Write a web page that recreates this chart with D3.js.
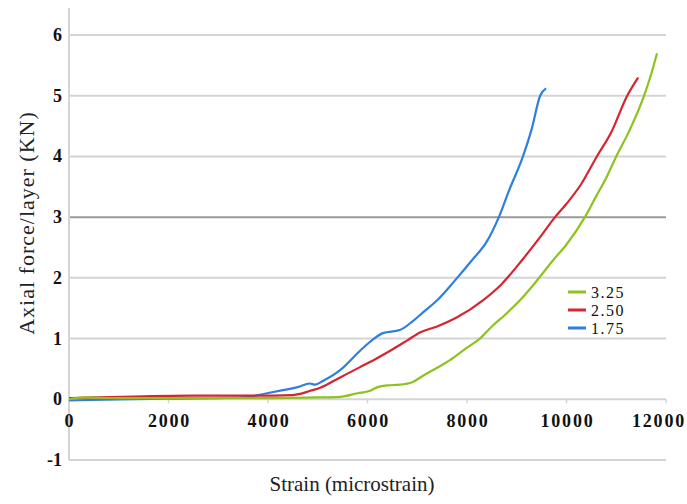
<!DOCTYPE html>
<html>
<head>
<meta charset="utf-8">
<script src="https://cdn.jsdelivr.net/npm/d3@7"></script>
<style>
  body { margin: 0; background: #fff; }
  .tick-label { font-family: "Liberation Serif", "Times New Roman", serif; font-weight: bold; font-size: 18px; letter-spacing: 1.8px; fill: #111; }
  .axis-title { font-family: "Liberation Serif", "Times New Roman", serif; font-size: 21px; fill: #222; }
  .legend-text { font-family: "Liberation Serif", "Times New Roman", serif; font-size: 16px; letter-spacing: 1.5px; fill: #111; }
</style>
</head>
<body>
<div id="chart"></div>
<script>
// strain (microstrain) vs axial force per layer (kN), one array pair per series
const green_x = [0, 300, 1000, 2000, 3000, 4000, 5000, 5450, 5800, 6050, 6200, 6400, 6650, 6900, 7100, 7400, 7650, 8000, 8260, 8500, 8750, 9065, 9350, 9730, 10000, 10370, 10600, 10800, 11000, 11250, 11560, 11700, 11820];
const green_y = [0.0, 0.03, 0.02, 0.02, 0.02, 0.02, 0.03, 0.04, 0.1, 0.14, 0.2, 0.23, 0.24, 0.28, 0.38, 0.52, 0.64, 0.85, 1.0, 1.2, 1.38, 1.63, 1.9, 2.29, 2.55, 3.0, 3.35, 3.65, 4.0, 4.4, 5.0, 5.35, 5.7];

const red_x = [0, 500, 1500, 2500, 3500, 4500, 4650, 4850, 5050, 5450, 5850, 6110, 6500, 6800, 7055, 7400, 7800, 8320, 8700, 9105, 9450, 9770, 10000, 10300, 10610, 10900, 11220, 11440];
const red_y = [0.02, 0.03, 0.05, 0.06, 0.06, 0.07, 0.09, 0.14, 0.19, 0.36, 0.53, 0.64, 0.82, 0.97, 1.1, 1.2, 1.35, 1.63, 1.9, 2.29, 2.65, 3.0, 3.22, 3.55, 4.0, 4.4, 5.0, 5.3];

const blue_x = [0, 1000, 2000, 3000, 3500, 3980, 4300, 4600, 4840, 4950, 5100, 5450, 5850, 6100, 6310, 6650, 6900, 7100, 7400, 7750, 8100, 8400, 8640, 8850, 9125, 9300, 9470, 9590];
const blue_y = [-0.02, 0.0, 0.01, 0.02, 0.03, 0.1, 0.15, 0.2, 0.26, 0.24, 0.3, 0.48, 0.8, 0.98, 1.09, 1.14, 1.28, 1.42, 1.63, 1.95, 2.29, 2.6, 3.0, 3.45, 4.0, 4.45, 5.0, 5.12];

const series_names = ["3.25", "2.50", "1.75"];
const series_colors = ["#8dc21f", "#d42530", "#2d7fe0"];
const x_ticks = [0, 2000, 4000, 6000, 8000, 10000, 12000];
const y_ticks = [-1, 0, 1, 2, 3, 4, 5, 6];

const W = 687, H = 504;
const svg = d3.select("#chart").append("svg")
    .attr("width", W)
    .attr("height", H);

const x = d3.scaleLinear().domain([0, 12000]).range([69, 666]);
const y = d3.scaleLinear().domain([-1, 6]).range([460, 35]);

// horizontal gridlines
svg.append("g")
    .selectAll("line")
    .data(y_ticks)
    .enter()
    .append("line")
    .attr("x1", x(0))
    .attr("x2", x(12000))
    .attr("y1", function(d) { return y(d); })
    .attr("y2", function(d) { return y(d); })
    .attr("stroke", function(d) { return d === 3 ? "#9a9a9a" : "#d4d4d4"; })
    .attr("stroke-width", 2);

// left axis line
svg.append("line")
    .attr("x1", x(0)).attr("x2", x(0))
    .attr("y1", 8).attr("y2", y(-1))
    .attr("stroke", "#d4d4d4")
    .attr("stroke-width", 2);

// small tick marks under the zero line
svg.append("g")
    .selectAll("line")
    .data(x_ticks.slice(1))
    .enter()
    .append("line")
    .attr("x1", function(d) { return x(d); })
    .attr("x2", function(d) { return x(d); })
    .attr("y1", y(0))
    .attr("y2", y(0) + 4)
    .attr("stroke", "#d4d4d4")
    .attr("stroke-width", 1.5);

// y tick labels
svg.append("g")
    .selectAll("text")
    .data(y_ticks)
    .enter()
    .append("text")
    .attr("class", "tick-label")
    .style("letter-spacing", "0px")
    .attr("x", 62)
    .attr("y", function(d) { return y(d) + 6; })
    .attr("text-anchor", "end")
    .text(function(d) { return d; });

// x tick labels
svg.append("g")
    .selectAll("text")
    .data(x_ticks)
    .enter()
    .append("text")
    .attr("class", "tick-label")
    .attr("x", function(d) { return d === 12000 ? x(d) - 7 : x(d) + 1; })
    .attr("y", 427)
    .attr("text-anchor", "middle")
    .text(function(d) { return d; });

// curves
const line = d3.line()
    .x(function(d) { return x(d[0]); })
    .y(function(d) { return y(d[1]); })
    .curve(d3.curveMonotoneX);

const all_series = [
    d3.zip(green_x, green_y),
    d3.zip(red_x, red_y),
    d3.zip(blue_x, blue_y)
];

// drawn so that green sits on top at the bottom-left like the source
[2, 1, 0].forEach(function(i) {
    svg.append("path")
        .datum(all_series[i])
        .attr("fill", "none")
        .attr("stroke", series_colors[i])
        .attr("stroke-width", 2.2)
        .attr("stroke-linejoin", "round")
        .attr("d", line);
});

// legend
const legend = svg.append("g")
    .attr("transform", "translate(568, 292)");

series_names.forEach(function(name, i) {
    legend.append("line")
        .attr("x1", 0).attr("x2", 18)
        .attr("y1", i * 18).attr("y2", i * 18)
        .attr("stroke", series_colors[i])
        .attr("stroke-width", 3);
    legend.append("text")
        .attr("class", "legend-text")
        .attr("x", 23)
        .attr("y", i * 18 + 6)
        .text(name);
});

// axis titles
svg.append("text")
    .attr("class", "axis-title")
    .attr("x", 352)
    .attr("y", 491)
    .attr("text-anchor", "middle")
    .text("Strain (microstrain)");

svg.append("text")
    .attr("class", "axis-title")
    .attr("transform", "translate(34, 223) rotate(-90)")
    .attr("text-anchor", "middle")
    .style("font-size", "22px")
    .style("letter-spacing", "1px")
    .text("Axial force/layer (KN)");
</script>
</body>
</html>
